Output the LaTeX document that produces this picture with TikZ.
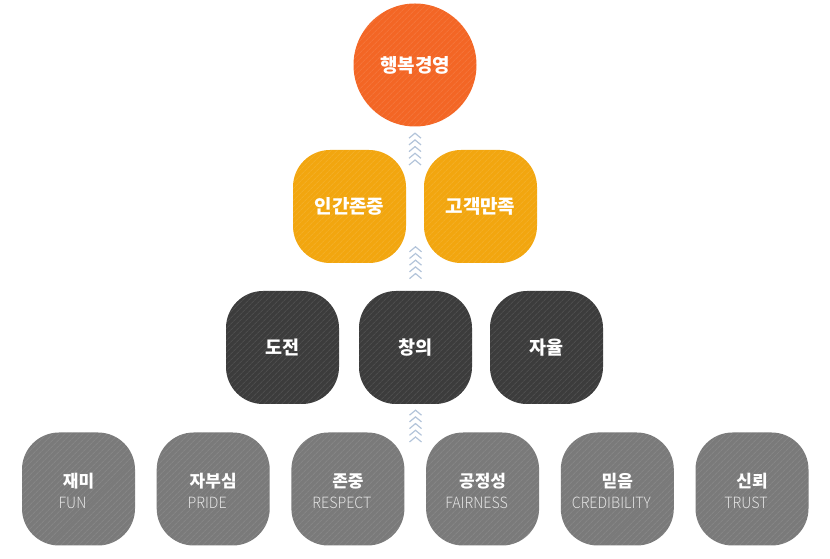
\documentclass[tikz,border=0pt]{standalone}
\usepackage{fontspec}
\setmainfont{Noto Sans CJK KR}
\newfontfamily\enlight{Noto Sans CJK KR Light}[FakeStretch=0.92]
\usepackage{tikz}
\usetikzlibrary{positioning, calc, patterns.meta}
\usepackage{xcolor}
\definecolor{goalorange}{HTML}{F36625}
\definecolor{valueyellow}{HTML}{F2A60F}
\definecolor{coredark}{HTML}{3C3C3C}
\definecolor{basegray}{HTML}{7A7A7A}
\definecolor{chevblue}{HTML}{B3C4DA}
\definecolor{englishgray}{HTML}{E4E4E4}

\begin{document}
\begin{tikzpicture}[x=1pt, y=1pt,
    hatch/.style={postaction={pattern={Lines[angle=45,distance=4pt,line width=0.9pt]},
        pattern color=white, fill opacity=0.09}},
    goalcircle/.style={circle, fill=goalorange, minimum size=123pt, inner sep=0pt,
        text=white, font=\fontsize{19}{19}\selectfont\bfseries, hatch},
    squarebox/.style={rectangle, rounded corners=37pt, minimum size=113pt, inner sep=0pt,
        text=white, hatch},
    valuebox/.style={squarebox, fill=valueyellow, font=\fontsize{19}{19}\selectfont\bfseries},
    corebox/.style={squarebox, fill=coredark, font=\fontsize{18.5}{19}\selectfont\bfseries},
    basebox/.style={squarebox, fill=basegray},
    basekr/.style={anchor=base, inner sep=0pt, text=white, font=\fontsize{17}{17}\selectfont\bfseries},
    baseen/.style={anchor=base, inner sep=0pt, text=englishgray, font=\fontsize{15.5}{16}\enlight},
    chev/.style={draw=chevblue, line width=1.2pt}
]
    \useasboundingbox (0, 0) rectangle (830, 559);

    % Goal
    \node[goalcircle] (goal) at (415, 494) {행복경영};

    % Values
    \node[valuebox] (human) at (349.5, 352.5) {인간존중};
    \node[valuebox] (customer) at (480.5, 352.5) {고객만족};

    % Core row
    \node[corebox] (challenge) at (282.5, 211.5) {도전};
    \node[corebox] (creative) at (415.5, 211.5) {창의};
    \node[corebox] (autonomy) at (546.5, 211.5) {자율};

    % Base row
    \foreach \name/\kr/\en [count=\i from 0] in {fun/재미/FUN, pride/자부심/PRIDE,
            respect/존중/RESPECT, fair/공정성/FAIRNESS, belief/믿음/CREDIBILITY, trust/신뢰/TRUST} {
        \node[basebox] (\name) at (78.5 + 134.7*\i, 70) {};
        \node[basekr] (\name kr) at ([yshift=1pt]\name.center) {\kr};
        \node[baseen] (\name en) at ([xshift=-6pt, yshift=-20pt]\name.center) {\en};
    }

    % Chevrons
    \foreach \k in {0,...,4} {
        \draw[chev] ($(goal.south) + (-6, -11.5 - 6.7*\k)$) -- ++(6, 5) -- ++(6, -5);
        \draw[chev] ($(creative.north) + (-6, 39 - 6.7*\k)$) -- ++(6, 5) -- ++(6, -5);
        \draw[chev] ($(creative.south) + (-6, -11 - 6.7*\k)$) -- ++(6, 5) -- ++(6, -5);
    }

\end{tikzpicture}
\end{document}
